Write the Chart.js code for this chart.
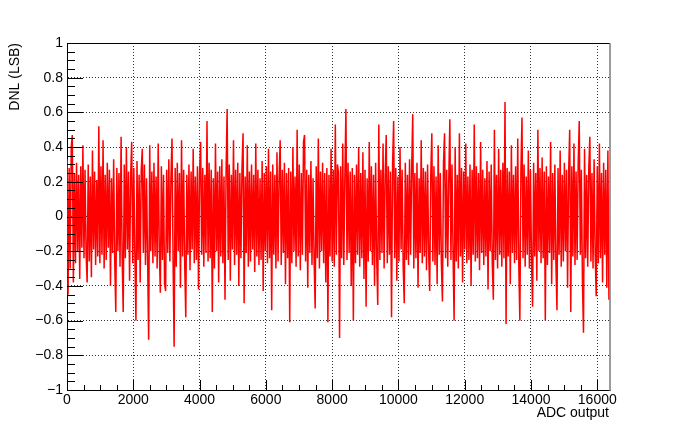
<!DOCTYPE html>
<html>
<head>
<meta charset="utf-8">
<title>DNL</title>
<script src="https://cdn.jsdelivr.net/npm/chart.js@4.4.1/dist/chart.umd.min.js"></script>
<style>
  html, body { margin: 0; padding: 0; background: #fff; }
</style>
</head>
<body>
<canvas id="dnlChart" width="678" height="434"></canvas>
<script>
// ADC code spacing between the sampled DNL points
const adcStep = 32;
const adcMax = 16384;

// DNL (LSB), one value per adcStep codes
const dnlValues = [
  0.33, -0.45, 0.28, -0.30, 0.40, 0.47, -0.38, 0.25, -0.27, 0.31, -0.20, 0.24, -0.36, 0.29, -0.18, 0.41,
  -0.24, 0.27, -0.21, -0.38, 0.30, -0.26, 0.23, -0.35, 0.38, -0.19, 0.26, -0.28, 0.21, -0.23, 0.52, -0.27,
  0.29, -0.22, 0.44, -0.30, 0.24, -0.25, 0.31, -0.18, 0.27, -0.40, 0.22, -0.21, 0.33, -0.26, -0.55, 0.28,
  -0.20, 0.25, -0.29, 0.46, -0.23, -0.55, 0.30, -0.24, 0.40, -0.19, 0.26, -0.37, 0.23, 0.43, -0.27, 0.28,
  -0.22, -0.60, 0.32, -0.25, 0.24, -0.38, 0.27, 0.39, -0.21, 0.30, -0.28, 0.22, -0.24, -0.71, 0.41, -0.20,
  0.26, -0.27, 0.31, -0.23, 0.23, -0.30, 0.42, -0.18, -0.44, 0.29, -0.25, 0.24, -0.39, -0.43, 0.27, -0.21,
  0.33, -0.26, 0.22, 0.45, -0.24, -0.75, 0.28, -0.29, 0.31, -0.20, 0.25, -0.41, 0.44, -0.23, 0.27, -0.28,
  -0.58, 0.24, -0.22, 0.30, -0.31, 0.26, -0.19, 0.39, -0.27, 0.23, -0.25, 0.29, -0.42, 0.25, 0.43, -0.22,
  0.28, -0.29, 0.24, -0.21, 0.55, -0.26, 0.31, -0.24, 0.27, -0.55, 0.22, -0.30, 0.42, -0.20, 0.26, -0.38,
  0.29, -0.23, 0.33, -0.27, 0.23, -0.48, 0.26, 0.62, -0.25, 0.30, -0.37, 0.24, -0.19, 0.44, -0.28, 0.27,
  -0.22, 0.31, -0.40, 0.25, -0.24, 0.28, 0.48, -0.50, 0.23, -0.21, 0.41, -0.29, 0.26, -0.26, 0.30, -0.19,
  0.24, -0.32, 0.42, -0.23, 0.27, -0.28, 0.22, -0.25, 0.32, -0.43, 0.25, -0.20, 0.29, -0.27, 0.39, -0.24,
  0.26, -0.54, 0.30, -0.22, 0.24, -0.30, 0.37, -0.26, 0.23, 0.44, -0.28, 0.27, -0.21, 0.31, -0.39, 0.25,
  -0.24, 0.28, -0.61, 0.26, -0.27, 0.40, -0.20, 0.23, -0.29, 0.50, -0.23, 0.30, -0.31, 0.25, -0.22, 0.43,
  0.47, -0.26, 0.27, -0.41, 0.24, -0.21, 0.32, -0.28, 0.22, -0.25, -0.53, 0.29, -0.24, 0.45, -0.30, 0.26,
  -0.20, 0.31, -0.27, 0.25, -0.38, 0.28, -0.61, 0.24, -0.23, 0.39, -0.26, 0.27, -0.29, 0.53, -0.22, 0.30,
  0.25, -0.70, 0.29, -0.24, 0.42, -0.28, 0.23, 0.62, -0.25, 0.31, -0.21, 0.26, -0.40, 0.28, -0.60, 0.24,
  -0.27, 0.30, -0.22, 0.40, -0.29, 0.25, -0.24, 0.37, -0.36, 0.27, -0.52, 0.22, -0.26, 0.43, -0.20, 0.29,
  -0.28, 0.24, -0.40, 0.31, -0.23, -0.51, 0.53, -0.25, 0.27, -0.21, 0.42, -0.30, 0.24, 0.47, -0.27, 0.29,
  -0.22, 0.26, -0.58, 0.30, 0.55, -0.24, 0.28, -0.37, 0.23, -0.26, 0.40, -0.19, 0.27, -0.29, -0.50, 0.31,
  -0.25, 0.24, -0.28, 0.33, -0.22, 0.27, 0.59, -0.30, 0.25, -0.24, 0.31, -0.41, 0.22, -0.21, 0.44, -0.27,
  0.28, -0.23, 0.26, -0.31, 0.30, -0.20, -0.43, 0.24, 0.48, -0.26, 0.29, -0.28, 0.23, -0.39, 0.41, -0.22,
  0.25, -0.27, -0.49, 0.31, 0.48, -0.24, 0.27, -0.29, 0.22, 0.56, -0.25, 0.30, -0.21, -0.60, 0.40, -0.26,
  0.24, -0.30, 0.48, -0.23, 0.28, -0.38, 0.26, -0.19, 0.42, -0.27, 0.23, -0.25, 0.30, -0.40, 0.27, -0.22,
  0.53, -0.26, 0.29, -0.24, 0.25, -0.31, 0.43, -0.21, 0.27, -0.28, 0.22, -0.23, 0.32, -0.42, 0.26, -0.20,
  0.30, -0.27, -0.48, 0.50, -0.25, 0.24, -0.30, 0.39, -0.22, 0.27, -0.29, 0.31, -0.24, 0.66, -0.62, 0.28,
  -0.23, 0.26, -0.39, 0.41, -0.21, 0.24, -0.27, 0.29, -0.25, 0.45, -0.28, -0.60, 0.27, 0.57, -0.24, 0.30,
  -0.29, 0.23, -0.22, 0.38, -0.30, 0.27, -0.26, -0.52, 0.31, -0.23, 0.25, -0.37, 0.50, -0.20, 0.28, -0.27,
  0.34, -0.24, 0.26, -0.60, 0.29, -0.28, 0.23, -0.21, 0.43, -0.39, 0.25, -0.25, 0.30, -0.27, -0.54, 0.28,
  -0.22, 0.38, -0.29, 0.24, -0.26, 0.31, -0.20, 0.27, -0.41, 0.25, 0.50, -0.55, 0.29, -0.23, 0.42, -0.28,
  0.26, -0.25, 0.30, 0.55, -0.22, 0.27, -0.37, -0.67, 0.39, -0.24, 0.24, -0.29, 0.28, 0.46, -0.26, 0.25,
  -0.30, 0.33, -0.21, -0.46, 0.29, -0.27, 0.42, -0.24, 0.25, -0.38, 0.31, -0.22, 0.27, -0.41, 0.38, -0.48
];

const xTickValues = [0, 2000, 4000, 6000, 8000, 10000, 12000, 14000, 16000];
const yTickValues = [-1, -0.8, -0.6, -0.4, -0.2, 0, 0.2, 0.4, 0.6, 0.8, 1];
const xTitle = "ADC output";
const yTitle = "DNL (LSB)";

const FONT = "'Liberation Sans', Arial, Helvetica, sans-serif";
Chart.defaults.font.family = FONT;
Chart.defaults.font.size = 14;
Chart.defaults.color = "#000";

function fmtY(v) {
  const r = Math.round(v * 10) / 10;
  return r < 0 ? "\u2212" + Math.abs(r) : String(r);
}

// ROOT style: inward ticks, frame and axis titles
const rootFrame = {
  id: "rootFrame",
  afterDatasetsDraw(chart) {
    const { ctx, chartArea: a, scales: { x, y } } = chart;
    ctx.save();
    ctx.strokeStyle = "#000";
    ctx.lineWidth = 1;
    ctx.beginPath();
    for (let v = 0; v <= adcMax; v += 500) {
      const px = Math.round(x.getPixelForValue(v)) + 0.5;
      const len = v % 2000 === 0 ? 10 : 5;
      ctx.moveTo(px, a.bottom);
      ctx.lineTo(px, a.bottom - len);
    }
    for (let i = 0; i <= 40; i++) {
      const py = Math.round(y.getPixelForValue(-1 + i * 0.05)) + 0.5;
      const len = i % 4 === 0 ? 16 : 8;
      ctx.moveTo(a.left, py);
      ctx.lineTo(a.left + len, py);
    }
    // top frame line
    ctx.moveTo(a.left, Math.round(a.top) + 0.5);
    ctx.lineTo(a.right, Math.round(a.top) + 0.5);
    ctx.stroke();

    ctx.strokeStyle = "#7a7a7a";
    ctx.lineWidth = 1.5;
    ctx.beginPath();
    ctx.moveTo(a.right, a.top);
    ctx.lineTo(a.right, a.bottom + 1);
    ctx.stroke();
    ctx.restore();
  },
  afterDraw(chart) {
    const { ctx, chartArea: a } = chart;
    ctx.save();
    ctx.font = "14px " + FONT;
    ctx.fillStyle = "#000";
    ctx.textAlign = "right";
    ctx.textBaseline = "alphabetic";
    ctx.fillText(xTitle, a.right - 1, 417);
    ctx.translate(19, a.top);
    ctx.rotate(-Math.PI / 2);
    ctx.fillText(yTitle, 0, 0);
    ctx.restore();
  }
};

document.addEventListener("DOMContentLoaded", () => {
  const points = dnlValues.map((v, i) => ({ x: i * adcStep, y: v }));

  new Chart(document.getElementById("dnlChart"), {
    type: "line",
    data: {
      datasets: [{
        label: "DNL",
        data: points,
        borderColor: "#ff0000",
        borderWidth: 1.5,
        pointRadius: 0,
        tension: 0,
        fill: false
      }]
    },
    options: {
      responsive: false,
      animation: false,
      parsing: false,
      layout: { padding: { top: 43, right: 68, left: 0, bottom: 0 } },
      plugins: { legend: { display: false }, tooltip: { enabled: false } },
      scales: {
        x: {
          type: "linear",
          min: 0,
          max: adcMax,
          afterBuildTicks: s => { s.ticks = xTickValues.map(v => ({ value: v })); },
          afterFit: s => { s.height = 44; },
          ticks: { padding: 2, maxRotation: 0, autoSkip: false, callback: v => String(v) },
          grid: { color: "#333", lineWidth: 1, drawTicks: false },
          border: { display: true, color: "#000", width: 1, dash: [1, 2] }
        },
        y: {
          type: "linear",
          min: -1,
          max: 1,
          afterBuildTicks: s => { s.ticks = yTickValues.map(v => ({ value: v })); },
          afterFit: s => { s.width = 67; },
          ticks: { padding: 4, autoSkip: false, callback: v => fmtY(v) },
          grid: { color: "#333", lineWidth: 1, drawTicks: false },
          border: { display: true, color: "#000", width: 1, dash: [1, 2] }
        }
      }
    },
    plugins: [rootFrame]
  });
});
</script>
</body>
</html>
